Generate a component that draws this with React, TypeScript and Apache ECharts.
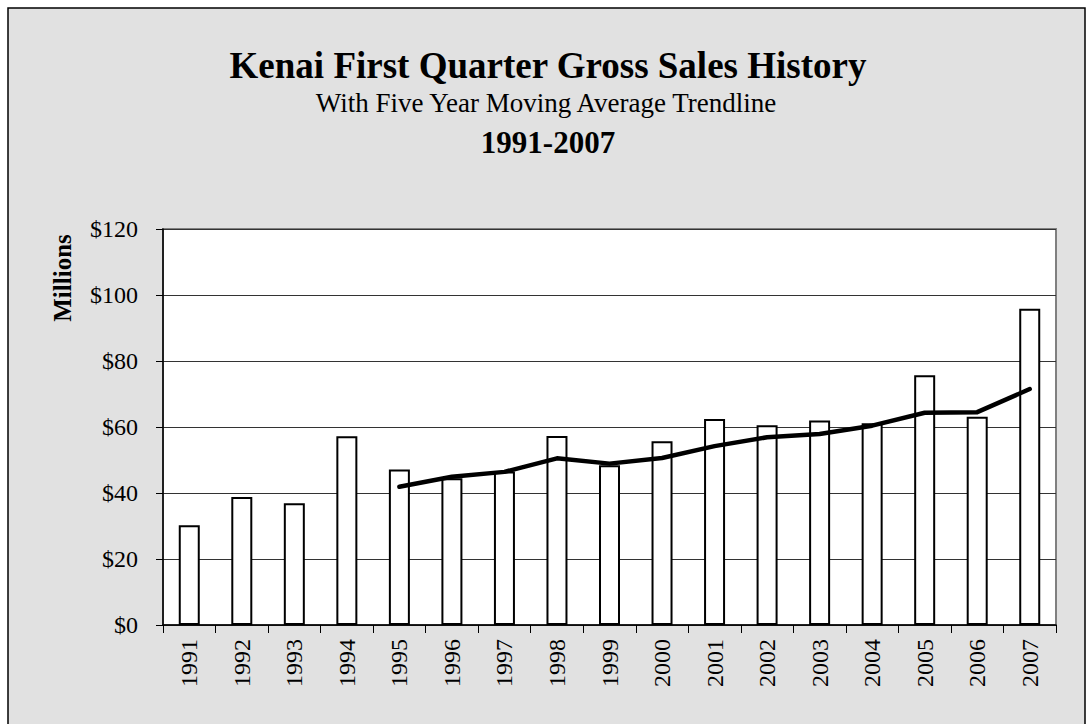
import React, { useEffect, useRef } from "react";
import * as echarts from "echarts";

const years = ["1991","1992","1993","1994","1995","1996","1997","1998","1999","2000","2001","2002","2003","2004","2005","2006","2007"];
const grossSales = [30.2, 38.8, 36.9, 57.2, 47.1, 44.5, 46.5, 57.3, 48.4, 55.7, 62.4, 60.5, 62.0, 61.1, 75.7, 63.1, 95.8];
const movingAverage = [null, null, null, null, 41.9, 44.9, 46.4, 50.5, 48.9, 50.6, 54.2, 56.9, 57.9, 60.4, 64.3, 64.5, 71.5];
const yTicks = [0, 20, 40, 60, 80, 100, 120];

const titleText = "Kenai First Quarter Gross Sales History";
const subtitleText = "With Five Year Moving Average Trendline";
const rangeText = "1991-2007";
const yAxisName = "Millions";

const FONT = "'Liberation Serif', 'Times New Roman', serif";

export default function App() {
  const ref = useRef<HTMLDivElement>(null);
  useEffect(() => {
    if (!ref.current) return;
    const chart = echarts.init(ref.current, undefined, { renderer: "svg" });
    chart.setOption({
      animation: false,
      backgroundColor: "#ffffff",
      textStyle: { fontFamily: FONT },
      graphic: [
        {
          type: "rect",
          z: -100,
          shape: { x: 8, y: 8, width: 1077, height: 740 },
          style: { fill: "#e1e1e1", stroke: "#000", lineWidth: 1.5 },
        },
        {
          type: "text",
          z: 100,
          x: 548,
          y: 65,
          style: {
            text: titleText,
            font: `bold 37px ${FONT}`,
            fill: "#000",
            textAlign: "center",
            textVerticalAlign: "middle",
          },
        },
        {
          type: "text",
          z: 100,
          x: 546,
          y: 103,
          style: {
            text: subtitleText,
            font: `27px ${FONT}`,
            fill: "#000",
            textAlign: "center",
            textVerticalAlign: "middle",
          },
        },
        {
          type: "text",
          z: 100,
          x: 548,
          y: 142,
          style: {
            text: rangeText,
            font: `bold 31px ${FONT}`,
            fill: "#000",
            textAlign: "center",
            textVerticalAlign: "middle",
          },
        },
        {
          type: "text",
          z: 100,
          x: 62,
          y: 278,
          rotation: Math.PI / 2,
          style: {
            text: yAxisName,
            font: `bold 25px ${FONT}`,
            fill: "#000",
            textAlign: "center",
            textVerticalAlign: "middle",
          },
        },
      ],
      grid: {
        left: 163,
        top: 229,
        right: 34,
        bottom: 99,
        show: true,
        backgroundColor: "#ffffff",
        borderColor: "#808080",
        borderWidth: 2,
      },
      xAxis: {
        type: "category",
        data: years,
        boundaryGap: true,
        axisLine: { show: true, lineStyle: { color: "#000", width: 1.5 } },
        axisTick: { show: true, inside: false, length: 8, alignWithLabel: false, lineStyle: { color: "#000", width: 1 } },
        axisLabel: {
          rotate: 90,
          interval: 0,
          margin: 14,
          fontSize: 24,
          fontFamily: FONT,
          color: "#000",
        },
        splitLine: { show: false },
      },
      yAxis: {
        type: "value",
        min: yTicks[0],
        max: yTicks[yTicks.length - 1],
        interval: 20,
        axisLine: { show: true, lineStyle: { color: "#000", width: 1.5 } },
        axisTick: { show: true, inside: false, length: 7, lineStyle: { color: "#000", width: 1 } },
        axisLabel: {
          formatter: (v: number) => "$" + v,
          margin: 25,
          fontSize: 24,
          fontFamily: FONT,
          color: "#000",
        },
        splitLine: { show: true, lineStyle: { color: "#333", width: 1 } },
      },
      series: [
        {
          type: "bar",
          name: "Gross Sales",
          data: grossSales,
          barWidth: 21,
          itemStyle: { color: "#ffffff", borderColor: "#000", borderWidth: 2 },
          z: 2,
        },
        {
          type: "line",
          name: "Five Year Moving Average",
          data: movingAverage,
          showSymbol: false,
          symbol: "none",
          connectNulls: false,
          lineStyle: { color: "#000", width: 4.5, cap: "round", join: "round" },
          z: 3,
        },
      ],
    });
    return () => chart.dispose();
  }, []);
  return (
    <div
      ref={ref}
      style={{ position: "fixed", left: 0, top: 0, width: 1090, height: 724 }}
    />
  );
}
